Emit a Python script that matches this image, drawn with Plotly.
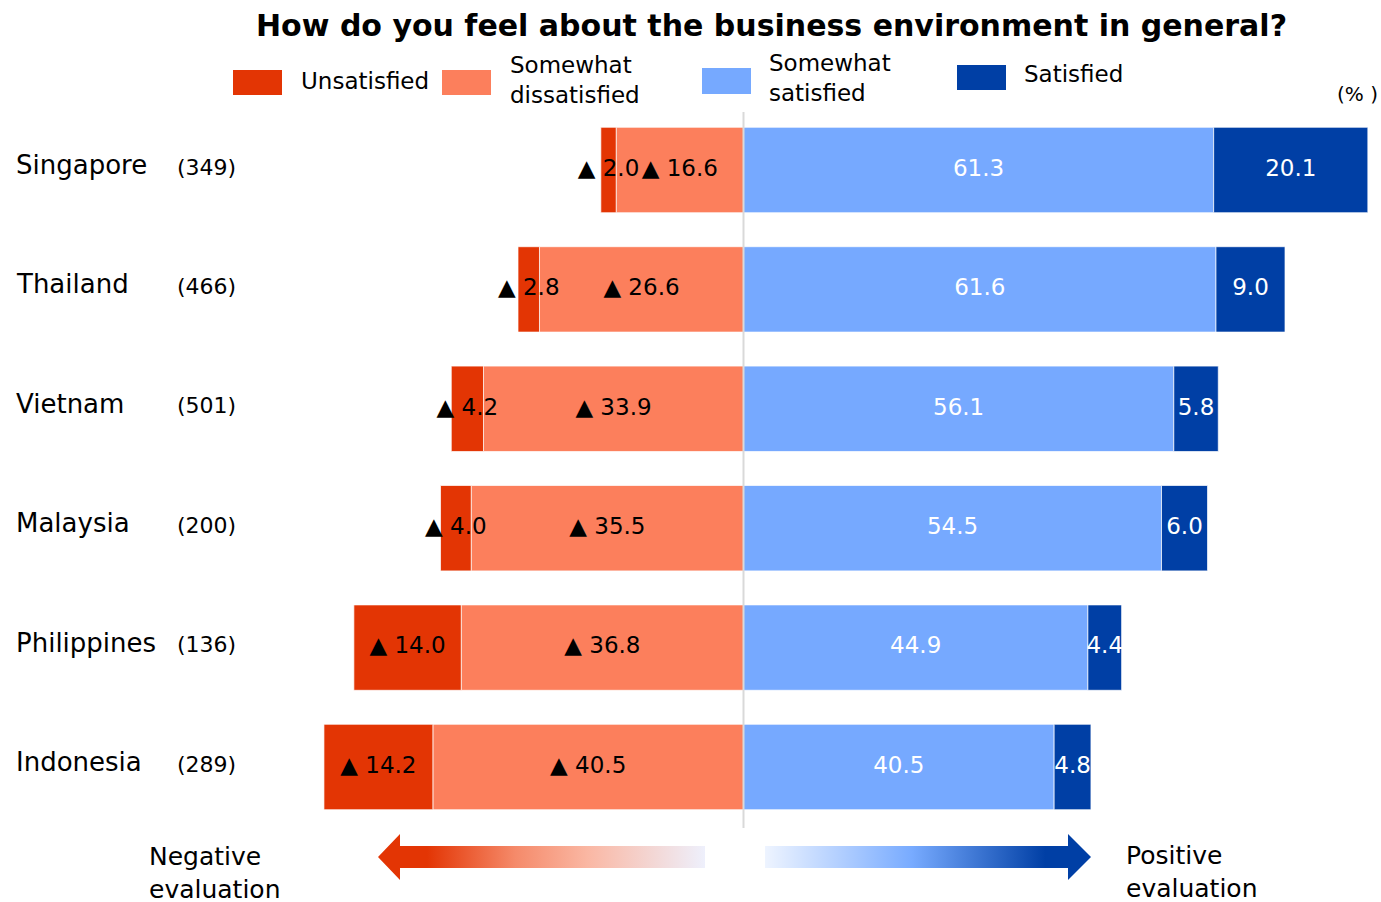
import plotly.graph_objects as go

countries = ["Singapore", "Thailand", "Vietnam", "Malaysia", "Philippines", "Indonesia"]
sample_sizes = ["(349)", "(466)", "(501)", "(200)", "(136)", "(289)"]
unsatisfied = [2.0, 2.8, 4.2, 4.0, 14.0, 14.2]
somewhat_dissatisfied = [16.6, 26.6, 33.9, 35.5, 36.8, 40.5]
somewhat_satisfied = [61.3, 61.6, 56.1, 54.5, 44.9, 40.5]
satisfied = [20.1, 9.0, 5.8, 6.0, 4.4, 4.8]

C_UNSAT = "#E33504"
C_SDIS = "#FC7F5C"
C_SSAT = "#76A9FF"
C_SAT = "#003FA5"
FONT = "DejaVu Sans"

W, H = 1381, 902
fig = go.Figure()

line = dict(color="rgba(255,255,255,0.7)", width=1)
BW = 0.715
fig.add_trace(go.Bar(y=countries, x=[-v for v in somewhat_dissatisfied], orientation="h",
                     marker=dict(color=C_SDIS, line=line), width=BW, name="Somewhat dissatisfied"))
fig.add_trace(go.Bar(y=countries, x=[-v for v in unsatisfied], orientation="h",
                     marker=dict(color=C_UNSAT, line=line), width=BW, name="Unsatisfied"))
fig.add_trace(go.Bar(y=countries, x=somewhat_satisfied, orientation="h",
                     marker=dict(color=C_SSAT, line=line), width=BW, name="Somewhat satisfied"))
fig.add_trace(go.Bar(y=countries, x=satisfied, orientation="h",
                     marker=dict(color=C_SAT, line=line), width=BW, name="Satisfied"))

# segment labels
lbl_font_dark = dict(family=FONT, size=23, color="black")
lbl_font_light = dict(family=FONT, size=23, color="white")
fig.add_trace(go.Scatter(y=countries, x=[-v / 2 for v in somewhat_dissatisfied], mode="text",
                         text=["▲ %.1f" % v for v in somewhat_dissatisfied], textfont=lbl_font_dark,
                         textposition="middle center", hoverinfo="skip"))
fig.add_trace(go.Scatter(y=countries, x=[-(d + u / 2) for d, u in zip(somewhat_dissatisfied, unsatisfied)],
                         mode="text", text=["▲ %.1f" % v for v in unsatisfied], textfont=lbl_font_dark,
                         textposition="middle center", hoverinfo="skip"))
fig.add_trace(go.Scatter(y=countries, x=[v / 2 for v in somewhat_satisfied], mode="text",
                         text=["%.1f" % v for v in somewhat_satisfied], textfont=lbl_font_light,
                         textposition="middle center", hoverinfo="skip"))
fig.add_trace(go.Scatter(y=countries, x=[a + b / 2 for a, b in zip(somewhat_satisfied, satisfied)],
                         mode="text", text=["%.1f" % v for v in satisfied], textfont=lbl_font_light,
                         textposition="middle center", hoverinfo="skip"))

# decorative arrows (pixel coordinates on overlay axes)
fig.add_trace(go.Scatter(
    x=[705, 400, 400, 378, 400, 400, 705, 705], y=[846, 846, 834, 857, 880, 868, 868, 846],
    xaxis="x2", yaxis="y2", mode="lines", line=dict(width=0), fill="toself", hoverinfo="skip",
    fillgradient=dict(type="horizontal", colorscale=[
        [0, C_UNSAT], [0.15, C_UNSAT], [0.42, "#F58A6A"], [0.64, "#FAB7A3"], [1, "#EEF0FC"]])))
fig.add_trace(go.Scatter(
    x=[765, 1068, 1068, 1091, 1068, 1068, 765, 765], y=[846, 846, 834, 857, 880, 868, 868, 846],
    xaxis="x2", yaxis="y2", mode="lines", line=dict(width=0), fill="toself", hoverinfo="skip",
    fillgradient=dict(type="horizontal", colorscale=[
        [0, "#EEF4FF"], [0.45, "#78ABFF"], [0.86, C_SAT], [1, C_SAT]])))

annotations = []
shapes = []
for c, n in zip(countries, sample_sizes):
    annotations.append(dict(x=14, xref="x2", y=c, yref="y", text=c, showarrow=False,
                            xanchor="left", yanchor="middle", yshift=5,
                            font=dict(family=FONT, size=26, color="black")))
    annotations.append(dict(x=175, xref="x2", y=c, yref="y", text=n, showarrow=False,
                            xanchor="left", yanchor="middle", yshift=3,
                            font=dict(family=FONT, size=22, color="black")))

# legend
legend_items = [
    ("Unsatisfied", C_UNSAT, 233, 70, 95, 299, 81),
    ("Somewhat<br>dissatisfied", C_SDIS, 442, 70, 95, 508, 80),
    ("Somewhat<br>satisfied", C_SSAT, 702, 68, 94, 767, 78),
    ("Satisfied", C_SAT, 957, 65, 90, 1022, 74),
]
for txt, col, x0, y0, y1, tx, ty in legend_items:
    shapes.append(dict(type="rect", xref="x2", yref="y2", x0=x0, x1=x0 + 49, y0=y0, y1=y1,
                       fillcolor=col, line=dict(width=0)))
    annotations.append(dict(x=tx, y=ty, xref="x2", yref="y2", text=txt, showarrow=False,
                            xanchor="left", yanchor="middle", align="left",
                            font=dict(family=FONT, size=23, color="black")))
annotations.append(dict(x=1380, y=94, xref="x2", yref="y2", text="(% )", showarrow=False,
                        xanchor="right", yanchor="middle", font=dict(family=FONT, size=20, color="black")))
annotations.append(dict(x=771, y=25, xref="x2", yref="y2",
                        text="<b>How do you feel about the business environment in general?</b>",
                        showarrow=False, xanchor="center", yanchor="middle",
                        font=dict(family=FONT, size=30, color="black")))
annotations.append(dict(x=147, y=873, xref="x2", yref="y2", text="Negative<br>evaluation", showarrow=False,
                        xanchor="left", yanchor="middle", align="left",
                        font=dict(family=FONT, size=25, color="black")))
annotations.append(dict(x=1124, y=872, xref="x2", yref="y2", text="Positive<br>evaluation", showarrow=False,
                        xanchor="left", yanchor="middle", align="left",
                        font=dict(family=FONT, size=25, color="black")))

# center divider
shapes.append(dict(type="line", xref="x2", yref="y2", x0=743.5, x1=743.5, y0=112, y1=828,
                   line=dict(color="#D9D9D9", width=2), layer="above"))

SCALE = 7.67
ZERO_PX = 743.5
fig.update_layout(
    width=W, height=H, autosize=False,
    margin=dict(l=0, r=0, t=0, b=0),
    paper_bgcolor="white", plot_bgcolor="white",
    barmode="relative", showlegend=False,
    xaxis=dict(range=[-ZERO_PX / SCALE, (W - ZERO_PX) / SCALE], visible=False, fixedrange=True),
    yaxis=dict(categoryorder="array", categoryarray=countries,
               range=[(H - 170) / 119.4, -170 / 119.4], visible=False, fixedrange=True),
    xaxis2=dict(range=[0, W], domain=[0, 1], anchor="y2", overlaying="x", visible=False, fixedrange=True),
    yaxis2=dict(range=[H, 0], domain=[0, 1], anchor="x2", overlaying="y", visible=False, fixedrange=True),
    shapes=shapes, annotations=annotations,
)

fig.write_html("out.html", config={"displayModeBar": False},
               post_script="document.body.style.margin='0';document.body.style.overflow='hidden';")
